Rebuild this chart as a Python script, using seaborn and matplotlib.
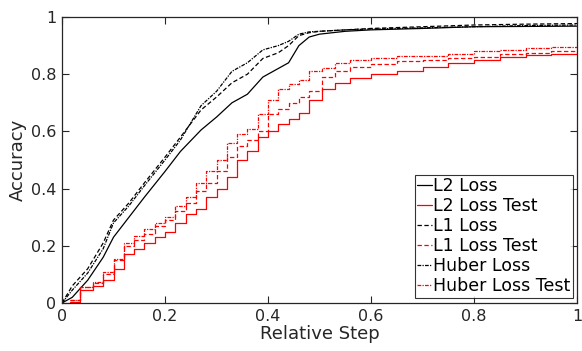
import matplotlib
matplotlib.use("Agg")
import matplotlib.pyplot as plt
import seaborn as sns
import pandas as pd
from matplotlib.ticker import FormatStrFormatter, MultipleLocator

# Training accuracy curves (smooth, many small increments)
train_step = [0.0, 0.02, 0.05, 0.08, 0.10, 0.13, 0.16, 0.20, 0.23, 0.27, 0.30,
              0.33, 0.36, 0.39, 0.42, 0.44, 0.46, 0.48, 0.50, 0.55, 0.60, 0.70,
              0.80, 0.90, 1.00]
l2_train = [0.0, 0.02, 0.08, 0.16, 0.23, 0.30, 0.37, 0.46, 0.53, 0.605, 0.65,
            0.70, 0.73, 0.79, 0.82, 0.84, 0.90, 0.93, 0.94, 0.95, 0.955, 0.96,
            0.966, 0.967, 0.968]
l1_train = [0.0, 0.06, 0.12, 0.21, 0.29, 0.35, 0.42, 0.51, 0.58, 0.675, 0.72,
            0.77, 0.80, 0.855, 0.875, 0.90, 0.935, 0.945, 0.95, 0.955, 0.96, 0.966,
            0.972, 0.975, 0.977]
huber_train = [0.0, 0.045, 0.105, 0.19, 0.28, 0.34, 0.41, 0.50, 0.57, 0.69, 0.74,
               0.81, 0.84, 0.885, 0.90, 0.915, 0.94, 0.948, 0.95, 0.955, 0.958,
               0.962, 0.966, 0.97, 0.972]

# Test accuracy curves (coarse steps)
test_step = [0.016, 0.035, 0.06, 0.08, 0.10, 0.12, 0.14, 0.16, 0.18, 0.20, 0.22,
             0.24, 0.26, 0.28, 0.30, 0.32, 0.34, 0.36, 0.38, 0.40, 0.42, 0.44,
             0.46, 0.48, 0.505, 0.53, 0.56, 0.60, 0.65, 0.70, 0.75, 0.80, 0.85,
             0.90, 0.95, 1.00]
l2_test = [0.005, 0.045, 0.06, 0.08, 0.12, 0.17, 0.19, 0.21, 0.23, 0.25, 0.28,
           0.31, 0.33, 0.37, 0.40, 0.44, 0.50, 0.53, 0.58, 0.60, 0.625, 0.645,
           0.665, 0.71, 0.75, 0.77, 0.785, 0.80, 0.81, 0.825, 0.84, 0.85, 0.86,
           0.866, 0.872, 0.876]
l1_test = [0.01, 0.055, 0.07, 0.10, 0.15, 0.20, 0.22, 0.24, 0.27, 0.29, 0.32,
           0.35, 0.39, 0.42, 0.46, 0.51, 0.55, 0.57, 0.60, 0.66, 0.68, 0.70,
           0.72, 0.74, 0.79, 0.81, 0.825, 0.835, 0.845, 0.85, 0.855, 0.86, 0.87,
           0.875, 0.882, 0.885]
huber_test = [0.01, 0.055, 0.075, 0.11, 0.155, 0.21, 0.235, 0.26, 0.28, 0.30, 0.34,
              0.37, 0.42, 0.46, 0.50, 0.56, 0.59, 0.61, 0.66, 0.71, 0.75, 0.765,
              0.78, 0.81, 0.82, 0.84, 0.85, 0.858, 0.862, 0.865, 0.87, 0.88, 0.885,
              0.89, 0.895, 0.897]

sns.set_theme(style="white")
plt.rcParams["font.family"] = ["DejaVu Sans"]

fig = plt.figure(figsize=(5.82, 3.51), dpi=100)
ax = fig.add_axes([62 / 582, 1 - 303 / 351, 515 / 582, 286 / 351])

dash_l1 = (0, (3.5, 2))
dash_huber = (0, (3, 1, 1, 1))
lw = 0.9

series = [
    ("L2 Loss", train_step, l2_train, "black", "-", None),
    ("L2 Loss Test", test_step, l2_test, "red", "-", "steps-post"),
    ("L1 Loss", train_step, l1_train, "black", dash_l1, None),
    ("L1 Loss Test", test_step, l1_test, "red", dash_l1, "steps-post"),
    ("Huber Loss", train_step, huber_train, "black", dash_huber, None),
    ("Huber Loss Test", test_step, huber_test, "red", dash_huber, "steps-post"),
]

for label, xs, ys, color, ls, ds in series:
    df = pd.DataFrame({"step": xs, "acc": ys})
    kw = dict(drawstyle=ds) if ds else {}
    sns.lineplot(data=df, x="step", y="acc", ax=ax, color=color, linestyle=ls,
                 linewidth=lw, label=label, estimator=None, sort=False, **kw)

ax.set_xlim(0, 1)
ax.set_ylim(0, 1)
ax.xaxis.set_major_locator(MultipleLocator(0.2))
ax.yaxis.set_major_locator(MultipleLocator(0.2))
ax.xaxis.set_major_formatter(FormatStrFormatter("%g"))
ax.yaxis.set_major_formatter(FormatStrFormatter("%g"))

axis_col = "#262626"
for sp in ax.spines.values():
    sp.set_visible(True)
    sp.set_color(axis_col)
    sp.set_linewidth(0.9)
ax.tick_params(direction="in", length=5, width=0.8, colors=axis_col,
               labelsize=11.5, top=True, right=True, bottom=True, left=True, pad=4)
for t in ax.get_xticklabels() + ax.get_yticklabels():
    t.set_color(axis_col)

ax.set_xlabel("Relative Step", fontsize=13, color=axis_col, labelpad=1)
ax.set_ylabel("Accuracy", fontsize=13, color=axis_col, labelpad=3)

leg = ax.legend(loc="lower right", bbox_to_anchor=(0.992, 0.0175), borderaxespad=0,
                fontsize=12.5, frameon=True, fancybox=False, handlelength=0.85,
                handletextpad=0.06, labelspacing=0.115, borderpad=0.15)
leg.get_frame().set_edgecolor("black")
leg.get_frame().set_linewidth(0.8)
for t in leg.get_texts():
    t.set_color("black")

fig.savefig("out.png", dpi=100)
